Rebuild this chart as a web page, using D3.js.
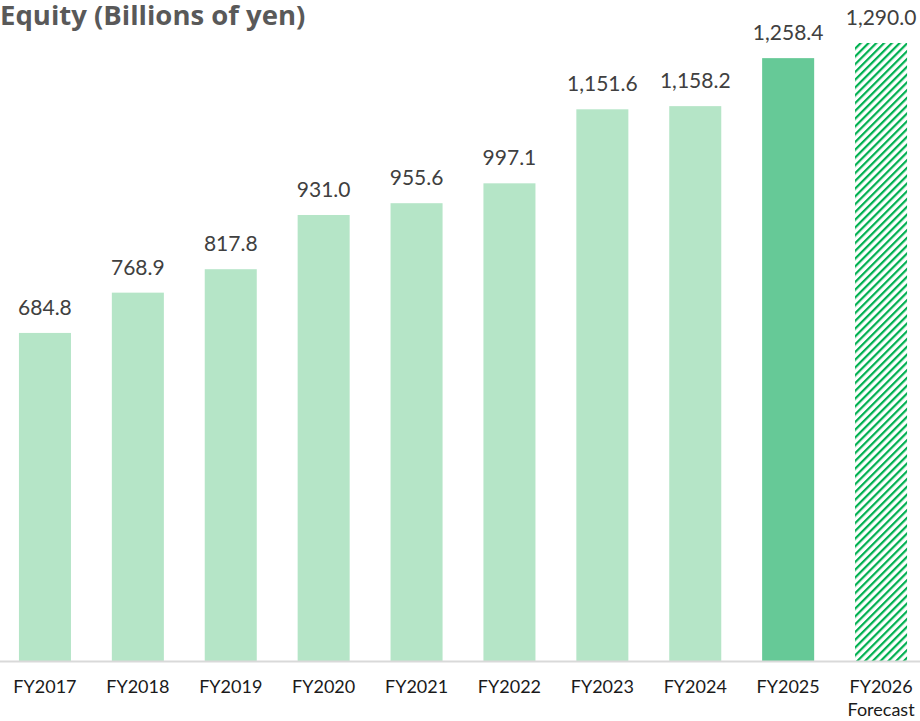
<!DOCTYPE html>
<html>
<head>
<meta charset="utf-8">
<script src="https://cdn.jsdelivr.net/npm/d3@7"></script>
<style>
  html, body { margin: 0; padding: 0; background: #fff; }
  svg { display: block; }
</style>
</head>
<body>
<svg id="chart" width="920" height="721"></svg>
<script>
// Equity by fiscal year (billions of yen)
const categories = ["FY2017", "FY2018", "FY2019", "FY2020", "FY2021", "FY2022", "FY2023", "FY2024", "FY2025", "FY2026"];
const subLabels  = ["", "", "", "", "", "", "", "", "", "Forecast"];
const equity     = [684.8, 768.9, 817.8, 931.0, 955.6, 997.1, 1151.6, 1158.2, 1258.4, 1290.0];
const barKind    = ["actual", "actual", "actual", "actual", "actual", "actual", "actual", "actual", "latest", "forecast"];
const titleText  = "Equity (Billions of yen)";

const W = 920, H = 721;
const baseY = 661;
const svg = d3.select("#chart");

const x = d3.scaleBand()
  .domain(categories)
  .range([-1.5, 927.5])
  .paddingInner(0.44)
  .paddingOuter(0.22);

const y = d3.scaleLinear()
  .domain([0, 1290])
  .range([baseY, 43]);

// diagonal hatch for the forecast bar
const defs = svg.append("defs");
const pat = defs.append("pattern")
  .attr("id", "hatch")
  .attr("patternUnits", "userSpaceOnUse")
  .attr("width", 5.5).attr("height", 5.5)
  .attr("patternTransform", "rotate(45)");
pat.append("rect").attr("x", 0).attr("y", 0).attr("width", 2.2).attr("height", 5.5).attr("fill", "#00b050");

const fillFor = k => k === "latest" ? "#66c997" : k === "forecast" ? "url(#hatch)" : "#b5e5c7";

const data = categories.map((c, i) => ({ c, v: equity[i], k: barKind[i], sub: subLabels[i] }));

svg.append("g").selectAll("rect")
  .data(data)
  .join("rect")
  .attr("x", d => x(d.c))
  .attr("y", d => y(d.v))
  .attr("width", x.bandwidth())
  .attr("height", d => y(0) - y(d.v))
  .attr("fill", d => fillFor(d.k));

// value labels
const fmt = d3.format(",.1f");
svg.append("g").selectAll("text")
  .data(data)
  .join("text")
  .attr("x", d => x(d.c) + x.bandwidth() / 2)
  .attr("y", d => y(d.v) - 18)
  .attr("text-anchor", "middle")
  .attr("font-family", "Lato, sans-serif")
  .attr("font-size", 21)
  .attr("fill", "#404040")
  .text(d => fmt(d.v));

// x axis baseline and category labels
const xAxis = d3.axisBottom(x).tickSize(0).tickPadding(0).tickFormat(() => "");
const gx = svg.append("g").attr("transform", `translate(0,${baseY})`).call(xAxis);
gx.select(".domain").remove();
gx.append("line")
  .attr("x1", 0).attr("x2", W)
  .attr("y1", 0.5).attr("y2", 0.5)
  .attr("stroke", "#d9d9d9").attr("stroke-width", 2);

gx.selectAll(".tick").each(function(c, i) {
  const t = d3.select(this).append("text")
    .attr("text-anchor", "middle")
    .attr("font-family", "Lato, sans-serif")
    .attr("font-size", 18)
    .attr("fill", "#1a1a1a");
  t.append("tspan").attr("x", 0).attr("y", 32).text(c);
  if (subLabels[i]) t.append("tspan").attr("x", 0).attr("y", 55).text(subLabels[i]);
});

// title
svg.append("text")
  .attr("x", 0).attr("y", 25)
  .attr("font-family", "'Open Sans', sans-serif")
  .attr("font-weight", "bold")
  .attr("font-size", 27.5)
  .attr("fill", "#595959")
  .text(titleText);
</script>
</body>
</html>
